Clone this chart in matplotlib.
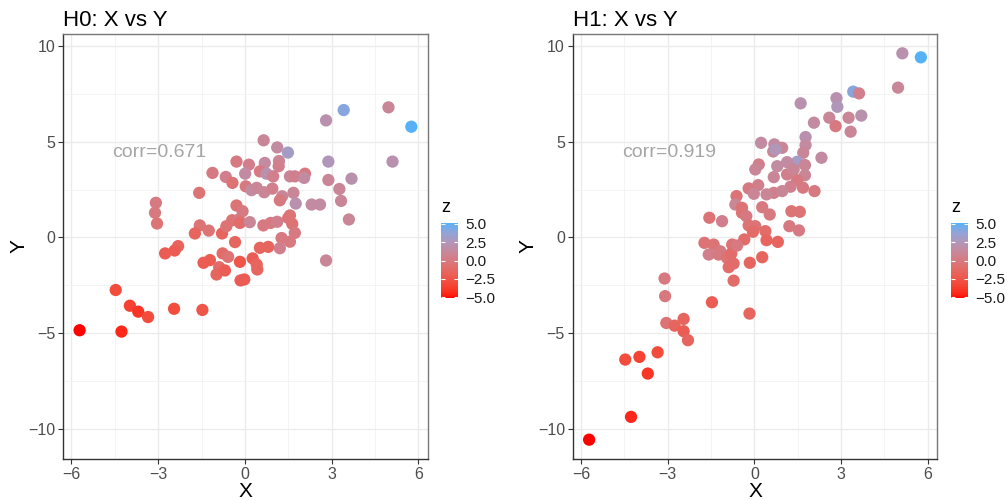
import numpy as np
import matplotlib
matplotlib.use('Agg')
import matplotlib.pyplot as plt
from matplotlib.colors import ListedColormap, Normalize
from matplotlib.ticker import MultipleLocator

plt.rcParams['font.family'] = ['Liberation Sans', 'DejaVu Sans']
plt.rcParams['axes.unicode_minus'] = True

# H0 panel: X, Y, z
h0_x = [3.42, 4.97, 5.76, 2.81, 5.11, 0.65, 1.12, 1.49, 2.89, -0.29,
        0.14, 0.69, 1.18, 1.17, -1.12, -0.66, -0.43, 0.01, 0.52, 0.75,
        0.98, 1.56, 1.73, 2.08, 2.05, 3.69, 2.89, 3.27, 3.33, 3.60,
        -1.58, 0.03, 0.23, 0.41, 0.67, 0.95, 1.29, 1.21, 1.68, 1.76,
        2.31, 2.60, -3.08, -3.11, -3.04, -0.29, -0.08, -1.56, -1.25, -1.73,
        -0.79, -0.64, -0.44, -0.21, -0.17, 0.17, 0.64, 0.89, 1.12, 1.50,
        1.56, 1.64, 1.73, 1.27, 1.56, -0.34, -2.31, 0.52, 0.81, 1.21,
        -2.76, -2.43, -1.43, -1.21, -0.77, -0.58, -0.89, -0.98, -0.69, -0.17,
        -0.15, -0.02, 0.27, 0.41, 0.43, 2.81, -4.47, -3.98, -3.69, -3.35,
        -2.45, -1.47, -5.72, -4.27]
h0_y = [6.65, 6.79, 5.78, 6.11, 3.96, 5.07, 4.70, 4.43, 3.96, 3.96,
        3.80, 3.89, 3.99, 3.72, 3.37, 3.16, 2.85, 3.33, 3.45, 3.33,
        3.19, 3.19, 3.19, 3.33, 3.11, 3.07, 3.00, 2.53, 1.91, 0.94,
        2.33, 2.67, 2.47, 2.59, 2.36, 2.55, 2.15, 1.94, 2.33, 1.77,
        1.72, 1.72, 1.81, 1.29, 0.73, 1.67, 1.37, 0.63, 0.36, 0.21,
        0.21, 0.59, 0.90, 0.94, 0.76, 0.80, 0.63, 0.76, 0.82, 1.02,
        1.15, 0.71, 0.24, -0.03, -0.22, -0.24, -0.45, -0.54, -0.49, -0.56,
        -0.83, -0.68, -1.32, -1.18, -0.83, -1.01, -1.55, -1.93, -1.72, -1.27,
        -2.24, -2.19, -1.09, -1.41, -1.67, -1.20, -2.74, -3.56, -3.87, -4.15,
        -3.72, -3.78, -4.84, -4.91]
h0_z = [4.0, 1.0, 5.1, 2.0, 2.0, 1.0, 1.5, 3.0, 2.5, 0.0,
        0.5, 1.5, 1.0, 0.5, 0.0, 0.5, -0.5, 1.5, 0.0, 2.0,
        0.5, 1.0, 0.5, 0.0, 1.5, 2.0, 1.0, 1.0, 1.0, 1.0,
        -0.5, 0.0, 1.5, 1.0, 1.0, 0.5, 1.0, 0.0, 1.0, 2.0,
        1.5, 1.5, 0.0, 0.0, -0.5, -0.5, 0.0, -0.5, -0.5, -1.5,
        -1.5, -0.5, -0.5, 0.0, -1.0, 1.0, 0.0, 0.0, 0.5, -0.5,
        -0.5, -0.5, 0.0, 0.0, 0.0, -1.5, -1.5, -1.5, -1.5, 0.5,
        -2.0, -2.0, -2.0, -2.0, -1.0, -0.5, -1.0, -1.5, -2.0, -2.5,
        -2.0, -2.0, -2.0, -1.5, -1.5, 1.0, -3.0, -3.5, -4.0, -3.0,
        -3.0, -2.5, -5.1, -4.5]

# H1 panel: X, Y, z
h1_x = [5.12, 5.76, 4.97, 3.42, 3.62, 1.60, 2.84, 2.87, 2.06, 2.59,
        2.81, 3.26, 3.70, 3.33, 1.77, 1.77, 1.69, 2.32, 0.23, 0.69,
        0.96, 0.65, 0.73, 1.48, 1.13, 0.79, 1.75, 0.15, 0.03, 0.67,
        1.13, 1.36, 1.75, 1.48, 0.13, -0.20, 1.25, 1.68, 2.08, 0.67,
        0.96, 0.42, -0.02, -0.62, -0.66, -0.43, -0.43, -0.28, 0.27, 0.53,
        1.28, 1.57, -1.56, -1.12, -0.20, 0.03, -0.05, 0.38, 1.21, 1.54,
        0.42, 0.81, -0.35, -1.73, -1.41, -0.77, -1.58, -1.24, -1.18, -0.95,
        -0.89, -0.80, -0.72, -0.60, -0.72, -0.16, 0.27, -3.11, -3.09, -1.47,
        -0.17, -3.05, -2.76, -2.45, -2.45, -2.30, -3.35, -4.47, -3.98, -3.69,
        -4.27, -5.72]
h1_y = [9.61, 9.40, 7.82, 7.61, 7.52, 7.00, 7.27, 6.82, 5.99, 6.25,
        5.81, 6.25, 6.36, 5.52, 5.24, 4.82, 4.42, 4.16, 4.94, 4.86,
        4.68, 4.49, 4.60, 3.95, 3.93, 3.72, 3.78, 3.81, 3.55, 3.15,
        3.29, 3.55, 3.25, 2.99, 2.73, 2.56, 2.65, 2.60, 2.42, 2.33,
        2.42, 2.25, 2.28, 2.16, 1.72, 1.55, 1.29, 1.11, 1.58, 1.20,
        1.37, 1.34, 1.03, 0.85, 0.63, 0.59, 0.30, 0.33, 0.59, 0.37,
        -0.14, -0.23, -0.10, -0.28, -0.37, -0.37, -0.89, -0.89, -0.72, -1.06,
        -1.55, -0.84, -1.36, -0.42, -2.25, -1.32, -1.03, -2.14, -3.06, -3.38,
        -3.97, -4.46, -4.60, -4.25, -4.89, -5.36, -5.99, -6.37, -6.23, -7.10,
        -9.36, -10.55]
h1_z = [2.0, 5.1, 1.0, 4.0, 0.5, 2.0, 2.0, 2.5, 1.5, 1.0,
        0.0, 1.0, 2.0, 1.0, 2.0, 1.5, 1.0, 1.5, 1.5, 1.5,
        1.0, 1.0, 2.5, 3.0, 1.5, 1.5, 1.0, 0.5, 1.0, 1.0,
        0.5, 1.0, 1.0, 0.0, 0.5, 0.0, 0.5, 0.0, 0.0, 0.5,
        1.0, 1.0, 1.0, -0.5, 1.0, -0.5, -0.5, 0.0, 0.0, 0.0,
        -0.5, -0.5, -0.5, 0.5, -0.5, -0.5, -1.0, -1.0, 0.0, 0.0,
        -1.5, -1.5, -1.0, -0.5, -0.5, -0.5, 0.5, 0.0, 0.0, -0.5,
        -1.0, -1.0, -1.0, 0.0, -1.0, -1.5, -1.5, 0.0, 0.0, -2.0,
        -1.5, -0.5, -1.5, -1.5, -2.0, -1.5, -3.0, -3.0, -3.5, -4.0,
        -4.5, -5.1]

titles = ['H0: X vs Y', 'H1: X vs Y']
corr_labels = ['corr=0.671', 'corr=0.919']
z_ticks = [-5.0, -2.5, 0.0, 2.5, 5.0]


def srgb_to_lab(rgb):
    c = np.asarray(rgb, float)
    lin = np.where(c <= 0.04045, c / 12.92, ((c + 0.055) / 1.055) ** 2.4)
    m = np.array([[0.4124, 0.3576, 0.1805],
                  [0.2126, 0.7152, 0.0722],
                  [0.0193, 0.1192, 0.9505]])
    xyz = m @ lin / np.array([0.95047, 1.0, 1.08883])
    f = np.where(xyz > 0.008856, np.cbrt(xyz), 7.787 * xyz + 16 / 116)
    return np.array([116 * f[1] - 16, 500 * (f[0] - f[1]), 200 * (f[1] - f[2])])


def lab_to_srgb(lab):
    L, a, b = lab
    fy = (L + 16) / 116
    f = np.array([fy + a / 500, fy, fy - b / 200])
    xyz = np.where(f ** 3 > 0.008856, f ** 3, (f - 16 / 116) / 7.787)
    xyz = xyz * np.array([0.95047, 1.0, 1.08883])
    minv = np.array([[3.2406, -1.5372, -0.4986],
                     [-0.9689, 1.8758, 0.0415],
                     [0.0557, -0.2040, 1.0570]])
    lin = np.clip(minv @ xyz, 0, None)
    c = np.where(lin <= 0.0031308, 12.92 * lin, 1.055 * lin ** (1 / 2.4) - 0.055)
    return np.clip(c, 0, 1)


# ggplot-like gradient red -> #56B1F7, interpolated in Lab
lab_lo = srgb_to_lab([1.0, 0.0, 0.0])
lab_hi = srgb_to_lab([0x56 / 255, 0xB1 / 255, 0xF7 / 255])
cmap = ListedColormap([lab_to_srgb(lab_lo + t * (lab_hi - lab_lo))
                       for t in np.linspace(0, 1, 256)])
norm = Normalize(vmin=-5.1, vmax=5.1)


def expand(vals):
    lo, hi = min(vals), max(vals)
    pad = 0.05 * (hi - lo)
    return lo - pad, hi + pad


xlim = expand(h0_x + h1_x)
ylim = expand(h0_y + h1_y)

fig = plt.figure(figsize=(10.08, 5.0), dpi=100)
axes_pos = [[0.0625, 0.082, 0.362, 0.85], [0.568, 0.082, 0.362, 0.85]]
cbar_pos = [[0.4375, 0.404, 0.0169, 0.15], [0.9435, 0.404, 0.0169, 0.15]]
panels = [(h0_x, h0_y, h0_z), (h1_x, h1_y, h1_z)]

for i, (xs, ys, zs) in enumerate(panels):
    ax = fig.add_axes(axes_pos[i])
    ax.set_axisbelow(True)
    sc = ax.scatter(xs, ys, c=zs, cmap=cmap, norm=norm, s=78, linewidths=0)
    ax.set_xlim(xlim)
    ax.set_ylim(ylim)
    ax.xaxis.set_major_locator(MultipleLocator(3))
    ax.xaxis.set_minor_locator(MultipleLocator(1.5))
    ax.yaxis.set_major_locator(MultipleLocator(5))
    ax.yaxis.set_minor_locator(MultipleLocator(2.5))
    ax.grid(which='major', color='#EBEBEB', lw=1.0)
    ax.grid(which='minor', color='#F2F2F2', lw=0.6)
    ax.tick_params(which='minor', length=0)
    ax.tick_params(which='major', length=3.5, width=0.8, color='#333333',
                   labelsize=11.5, labelcolor='#4D4D4D', pad=2)
    for side in ['left', 'bottom']:
        ax.spines[side].set_color('#333333')
        ax.spines[side].set_linewidth(1.0)
    for side in ['top', 'right']:
        ax.spines[side].set_color('#777777')
        ax.spines[side].set_linewidth(1.0)
    ax.set_xlabel('X', fontsize=15, labelpad=0)
    ax.set_ylabel('Y', fontsize=15, labelpad=0)
    ax.set_title(titles[i], loc='left', fontsize=16, pad=6)
    ax.text(-2.95, 4.45, corr_labels[i], fontsize=14, color='#A6A6A6',
            ha='center', va='center')

    cax = fig.add_axes(cbar_pos[i])
    cb = fig.colorbar(sc, cax=cax, ticks=z_ticks)
    cb.outline.set_visible(False)
    cax.set_ylim(-5.1, 5.1)
    cax.tick_params(left=True, right=True, labelleft=False, labelright=True,
                    direction='in', length=3, width=0.8, color='white',
                    labelsize=11, labelcolor='#1A1A1A', pad=5)
    cax.set_yticklabels(['\u22125.0', '\u22122.5', '0.0', '2.5', '5.0'])
    cax.text(0.0, 1.1, 'z', transform=cax.transAxes, fontsize=13,
             ha='left', va='bottom')

fig.savefig('out.png', dpi=100, facecolor='white')
